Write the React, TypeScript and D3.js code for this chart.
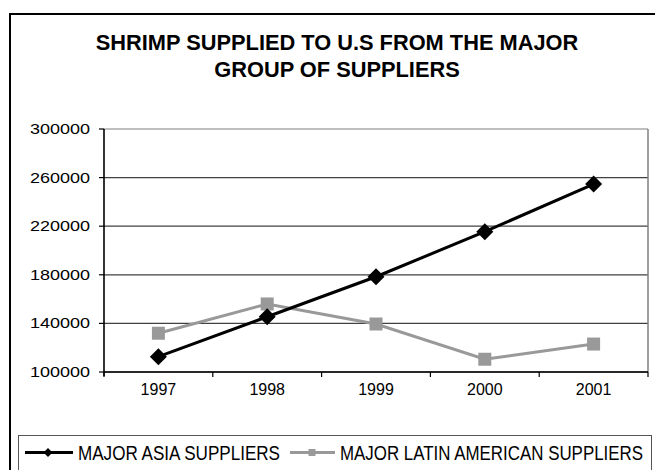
import React from "react";
import * as d3 from "d3";

const years = ["1997", "1998", "1999", "2000", "2001"];
const asiaValues = [112600, 145500, 178400, 215500, 254700];
const latinValues = [131900, 156000, 139500, 110500, 123000];
const yTicks = [100000, 140000, 180000, 220000, 260000, 300000];
const titleLines = ["SHRIMP SUPPLIED TO U.S FROM THE MAJOR", "GROUP OF SUPPLIERS"];
const seriesNames = ["MAJOR ASIA SUPPLIERS", "MAJOR LATIN AMERICAN SUPPLIERS"];

export default function App() {
  const W = 655, H = 470;
  const left = 104, right = 648, top = 129, bottom = 372;
  const x = d3.scaleBand<string>().domain(years).range([left, right]).padding(0);
  const y = d3.scaleLinear().domain([100000, 300000]).range([bottom, top]);
  const cx = (yr: string) => (x(yr) as number) + x.bandwidth() / 2;
  const line = d3
    .line<number>()
    .x((_, i) => cx(years[i]))
    .y((d) => y(d));
  const diamond = (px: number, py: number, r: number) =>
    `M${px},${py - r}L${px + r},${py}L${px},${py + r}L${px - r},${py}Z`;
  const font = "Arial, 'Liberation Sans', sans-serif";
  const boundaries = [...years.map((yr) => x(yr) as number), right];

  return (
    <svg
      width={W}
      height={H}
      style={{ position: "absolute", left: 0, top: 0, background: "#fff" }}
      fontFamily={font}
    >
      <rect x={0} y={0} width={W} height={H} fill="#fff" />
      <rect x={10} y={14} width={700} height={500} fill="none" stroke="#000" strokeWidth={2} />
      {titleLines.map((t, i) => (
        <text
          key={t}
          x={337}
          y={50 + i * 26.5}
          textAnchor="middle"
          fontWeight="bold"
          fontSize={21.8}
          fill="#000"
        >
          {t}
        </text>
      ))}
      {/* gridlines */}
      {yTicks.map((t) => (
        <line
          key={t}
          x1={left}
          x2={right}
          y1={y(t)}
          y2={y(t)}
          stroke={t === 300000 ? "#808080" : "#404040"}
          strokeWidth={1.2}
        />
      ))}
      <line x1={right} x2={right} y1={top} y2={bottom} stroke="#808080" strokeWidth={1.5} />
      {/* y axis */}
      <line x1={left} x2={left} y1={top} y2={bottom + 4} stroke="#000" strokeWidth={1.6} />
      {yTicks.map((t) => (
        <g key={"yt" + t}>
          <line x1={left - 5} x2={left} y1={y(t)} y2={y(t)} stroke="#000" strokeWidth={1.2} />
          <text
            x={30}
            y={y(t) + 5}
            fontSize={14.5}
            textLength={60}
            lengthAdjust="spacingAndGlyphs"
            fill="#000"
          >
            {t}
          </text>
        </g>
      ))}
      {/* x axis */}
      <line x1={left} x2={right} y1={bottom} y2={bottom} stroke="#000" strokeWidth={1.6} />
      {boundaries.map((b, i) => (
        <line key={"xt" + i} x1={b} x2={b} y1={bottom} y2={bottom + 5} stroke="#000" strokeWidth={1.2} />
      ))}
      {years.map((yr) => (
        <text key={yr} x={cx(yr)} y={395} textAnchor="middle" fontSize={16} fill="#000">
          {yr}
        </text>
      ))}
      {/* series */}
      <path d={line(latinValues) || ""} fill="none" stroke="#999999" strokeWidth={3} />
      {latinValues.map((v, i) => (
        <rect
          key={"l" + i}
          x={cx(years[i]) - 6.5}
          y={y(v) - 6.5}
          width={13}
          height={13}
          fill="#999999"
        />
      ))}
      <path d={line(asiaValues) || ""} fill="none" stroke="#000" strokeWidth={3} />
      {asiaValues.map((v, i) => (
        <path key={"a" + i} d={diamond(cx(years[i]), y(v), 8.5)} fill="#000" />
      ))}
      {/* legend */}
      <rect x={18.5} y={435.5} width={633} height={60} fill="#fff" stroke="#555" strokeWidth={1} />
      <line x1={25} x2={73} y1={452.5} y2={452.5} stroke="#000" strokeWidth={3} />
      <path d={diamond(48, 452.5, 4.5)} fill="#000" />
      <text x={78} y={460} fontSize={20} textLength={202} lengthAdjust="spacingAndGlyphs" fill="#000">
        {seriesNames[0]}
      </text>
      <line x1={290} x2={335} y1={452.5} y2={452.5} stroke="#999999" strokeWidth={3} />
      <rect x={308.5} y={449} width={7} height={7} fill="#999999" />
      <text x={340} y={460} fontSize={20} textLength={303} lengthAdjust="spacingAndGlyphs" fill="#000">
        {seriesNames[1]}
      </text>
    </svg>
  );
}
